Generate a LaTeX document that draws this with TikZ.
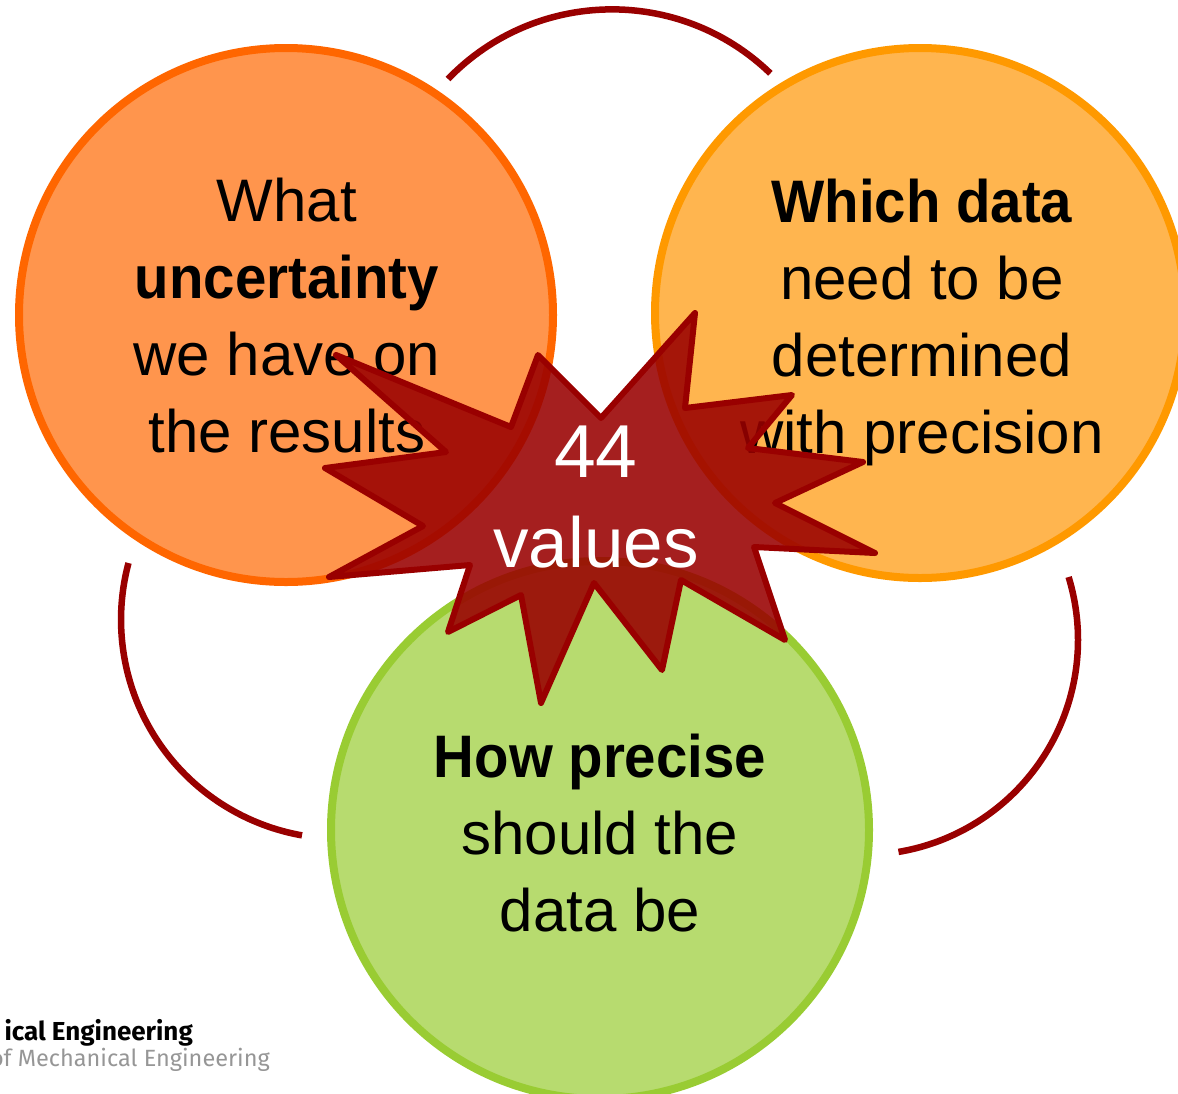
\documentclass[tikz,border=0pt]{standalone}
\usepackage{fontspec}
\usepackage{graphicx}
\setmainfont{Liberation Sans}
\newfontfamily\footfont{Fira Sans}
\newcommand{\narrowbold}[1]{\scalebox{0.94}[1]{\textbf{#1}}}
\definecolor{leftfill}{RGB}{255,149,77}
\definecolor{leftdraw}{RGB}{255,102,0}
\definecolor{rightfill}{RGB}{255,181,79}
\definecolor{rightdraw}{RGB}{255,153,0}
\definecolor{greenfill}{RGB}{183,219,111}
\definecolor{greendraw}{RGB}{153,204,51}
\definecolor{darkred}{RGB}{153,0,0}
\definecolor{footgray}{RGB}{150,150,150}
\tikzset{
  link/.style={draw=darkred, line width=6.5pt},
  bubble/.style={circle, inner sep=0pt, outer sep=0pt, minimum size=#1, line width=8pt},
  bubbletext/.style={align=center, inner sep=0pt, font=\fontsize{60}{77}\selectfont},
  startext/.style={align=center, inner sep=0pt, text=white, font=\fontsize{71}{90}\selectfont},
  foot/.style={inner sep=0pt, font=\footfont\fontsize{#1}{30}\selectfont}
}
\begin{document}
\begin{tikzpicture}[x=1pt,y=1pt]
\useasboundingbox (0,0) rectangle (1178,-1093);
\clip (0,0) rectangle (1178,-1093);
% connecting arcs
\coordinate (arcT) at (448,-79);
\coordinate (arcL) at (128.5,-563);
\coordinate (arcR) at (1068.6,-577);
\draw[link] (arcT) arc[start angle=136, end angle=46, radius=228];
\draw[link] (arcL) arc[start angle=165, end angle=260, radius=219];
\draw[link] (arcR) arc[start angle=17, end angle=-80.5, radius=215];
% circles
\node[bubble=534pt, draw=leftdraw, fill=leftfill] (left) at (286,-315) {};
\node[bubble=530pt, draw=rightdraw, fill=rightfill] (right) at (920,-313) {};
\node[bubble=538pt, draw=greendraw, fill=greenfill] (bottom) at (600,-830) {};
% texts
\node[bubbletext] (lefttext) at (287,-316) {What\\\narrowbold{uncertainty}\\we have on\\the results};
\node[bubbletext] (righttext) at (922,-322) {\narrowbold{Which data}\\need to be\\determined\\with precision};
\node[bubbletext] (bottomtext) at (600,-833) {\narrowbold{How precise}\\should the\\data be};
% star
\draw[draw=darkred, fill=darkred, fill opacity=0.88, line width=6pt, line join=round]
  (336,-355) -- (446,-452) -- (325,-468) -- (423,-526) -- (329,-577) -- (470,-565)
  -- (448,-632) -- (521,-595) -- (541,-703) -- (594,-583) -- (662,-670) -- (681,-580)
  -- (785,-640) -- (754,-547) -- (875,-553) -- (775,-503) -- (863,-462) -- (748,-448)
  -- (792,-395) -- (685,-408) -- (695,-313) -- (601,-418) -- (538,-355) -- (511,-427)
  -- cycle;
\node[startext] (star) at (596,-497) {{\fontsize{75}{90}\selectfont 44}\\values};
% footer
\node[foot=26, anchor=base east] (foot1) at (193,-1040) {\bfseries ical Engineering};
\node[foot=23.5, anchor=base east, text=footgray] (foot2) at (270,-1066) {of Mechanical Engineering};
\end{tikzpicture}
\end{document}
